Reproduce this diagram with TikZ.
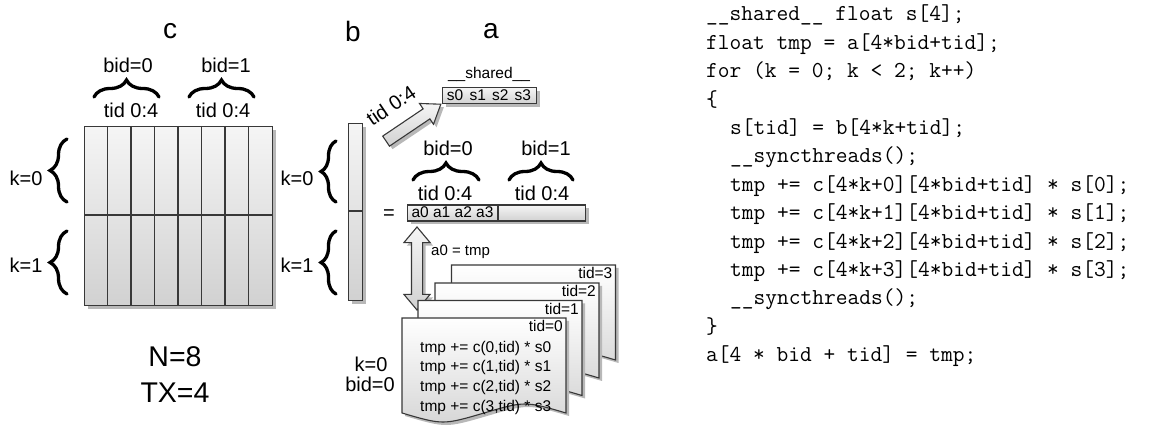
\documentclass[tikz,border=0pt]{standalone}
\usepackage{fontspec}
\setmainfont{Liberation Sans}
\usetikzlibrary{shadows,shapes.arrows,decorations.pathreplacing}
\begin{document}
\begin{tikzpicture}[x=1pt,y=-1pt,
  ln/.style={draw=black!78, line width=1.1pt},
  shd/.style={drop shadow={shadow xshift=3pt,shadow yshift=-3pt,fill=black!28,opacity=1}},
  grad/.style={top color=black!4, bottom color=black!18},
  box/.style={ln, grad, shd, inner sep=0pt, anchor=north west, rectangle},
  big/.style={font=\fontsize{28}{32}\selectfont, inner sep=0pt},
  lbl/.style={font=\fontsize{20}{24}\selectfont, inner sep=0pt},
  sml/.style={font=\fontsize{15.5}{18}\selectfont, inner sep=0pt},
  cell/.style={font=\fontsize{15.5}{18}\selectfont, inner sep=0pt},
  code/.style={font=\fontsize{22.8}{28}\ttfamily, inner sep=0pt, anchor=base west},
  brc/.style={decorate, decoration={brace, amplitude=#1}, line width=3.3pt, line cap=round, draw=black},
  doc/.style={ln, top color=white, bottom color=black!16, shd}
]
\useasboundingbox (0,0) rectangle (1159,427);

% ---------- matrix c ----------
\node[big] (tc) at (170,31) {c};
\node[box, minimum width=188pt, minimum height=179pt] (cmat) at (84,126) {};
\foreach \i in {1,...,7} \draw[ln] ({84+23.5*\i},126) -- ({84+23.5*\i},305);
\draw[draw=black!78, line width=2pt] (84,215) -- (272,215);
\node[lbl] (cb0) at (128,65) {bid=0};
\node[lbl] (cb1) at (226,65) {bid=1};
\draw[brc=17] (94,97) -- (159,97);
\draw[brc=17] (189,97) -- (254,97);
\node[lbl] (ct0) at (131,110) {tid 0:4};
\node[lbl] (ct1) at (223,110) {tid 0:4};
\draw[brc=17] (67,202) -- (67,139);
\draw[brc=17] (67,294) -- (67,231);
\node[lbl] (ck0) at (26,178) {k=0};
\node[lbl] (ck1) at (26,265) {k=1};
\node[font=\fontsize{28.5}{32}\selectfont, inner sep=0pt] (nN) at (175,357) {N=8};
\node[font=\fontsize{28.5}{32}\selectfont, inner sep=0pt] (nTX) at (175,393) {TX=4};

% ---------- vector b ----------
\node[big] (tb) at (353,31) {b};
\node[box, minimum width=14pt, minimum height=177pt] (bvec) at (348,123) {};
\draw[draw=black!78, line width=2pt] (348,211) -- (362,211);
\draw[brc=15] (336,202) -- (336,141);
\draw[brc=15] (336,294) -- (336,231);
\node[lbl] (bk0) at (297,178) {k=0};
\node[lbl] (bk1) at (297,265) {k=1};

% ---------- shared ----------
\node[sml] (shl) at (489,74) {\_\_shared\_\_};
\node[box, minimum width=94pt, minimum height=16pt] (sh) at (442,87) {};
\node[cell] (shtxt) at (489,95.5) {s0\hspace{0.4em}s1\hspace{0.4em}s2\hspace{0.4em}s3};
\node[single arrow, ln, grad, shd, minimum height=66pt, minimum width=24pt, inner sep=5.5pt,
      single arrow head extend=6.5pt, single arrow tip angle=72, rotate=34] (arr) at (410,125) {};
\node[lbl, rotate=34] (tidr) at (391,105.5) {tid 0:4};

% ---------- vector a ----------
\node[big] (ta) at (491,31) {a};
\node[lbl] (ab0) at (448,148) {bid=0};
\node[lbl] (ab1) at (546,148) {bid=1};
\draw[brc=17] (413,180) -- (479,180);
\draw[brc=17] (509,180) -- (573,180);
\node[lbl] (at0) at (445,193) {tid 0:4};
\node[lbl] (at1) at (542,193) {tid 0:4};
\node[lbl] (eq) at (389,215) {=};
\node[box, minimum width=178pt, minimum height=16pt] (abox) at (407,204.5) {};
\draw[ln] (498,204.5) -- (498,220.5);
\node[cell] (atxt) at (452.5,212.5) {a0 a1 a2 a3};

\node[double arrow, ln, grad, shd, minimum height=83pt, minimum width=25pt, inner sep=5pt,
      double arrow head extend=7.5pt, double arrow tip angle=80, rotate=90] (darr) at (417,268.5) {};
\node[font=\fontsize{15}{18}\selectfont, inner sep=0pt, anchor=west] (a0tmp) at (431,252) {a0 = tmp};

% ---------- documents ----------
\foreach \t/\x/\y in {3/451.5/265, 2/435/283, 1/418/300.5, 0/402/318} {
  \path[doc] (\x,\y) -- ({\x+164},\y) -- ({\x+164},{\y+95})
     .. controls ({\x+123},{\y+83}) .. ({\x+82},{\y+95})
     .. controls ({\x+41},{\y+107}) .. (\x,{\y+95}) -- cycle;
  \node[sml, anchor=base east] (tid\t) at ({\x+161},{\y+14}) {tid=\t};
}
\node[sml, anchor=base west] (d0) at (420,352.5) {tmp += c(0,tid) * s0};
\node[sml, anchor=base west] (d1) at (420,372) {tmp += c(1,tid) * s1};
\node[sml, anchor=base west] (d2) at (420,391.5) {tmp += c(2,tid) * s2};
\node[sml, anchor=base west] (d3) at (420,411) {tmp += c(3,tid) * s3};
\node[lbl] (dk) at (371,364) {k=0};
\node[lbl] (db) at (370,384) {bid=0};

% ---------- code ----------
\node[code] (l1) at (706,21) {\_\_shared\_\_ float s[4];};
\node[code] (l2) at (706,49.4) {float tmp = a[4*bid+tid];};
\node[code] (l3) at (706,77.8) {for (k = 0; k < 2; k++)};
\node[code] (l4) at (706,106.2) {\{};
\node[code] (l5) at (730,134.6) {s[tid] = b[4*k+tid];};
\node[code] (l6) at (730,163) {\_\_syncthreads();};
\node[code] (l7) at (730,191.4) {tmp += c[4*k+0][4*bid+tid] * s[0];};
\node[code] (l8) at (730,219.8) {tmp += c[4*k+1][4*bid+tid] * s[1];};
\node[code] (l9) at (730,248.2) {tmp += c[4*k+2][4*bid+tid] * s[2];};
\node[code] (l10) at (730,276.6) {tmp += c[4*k+3][4*bid+tid] * s[3];};
\node[code] (l11) at (730,305) {\_\_syncthreads();};
\node[code] (l12) at (706,333.4) {\}};
\node[code] (l13) at (706,361.8) {a[4 * bid + tid] = tmp;};
\end{tikzpicture}
\end{document}
